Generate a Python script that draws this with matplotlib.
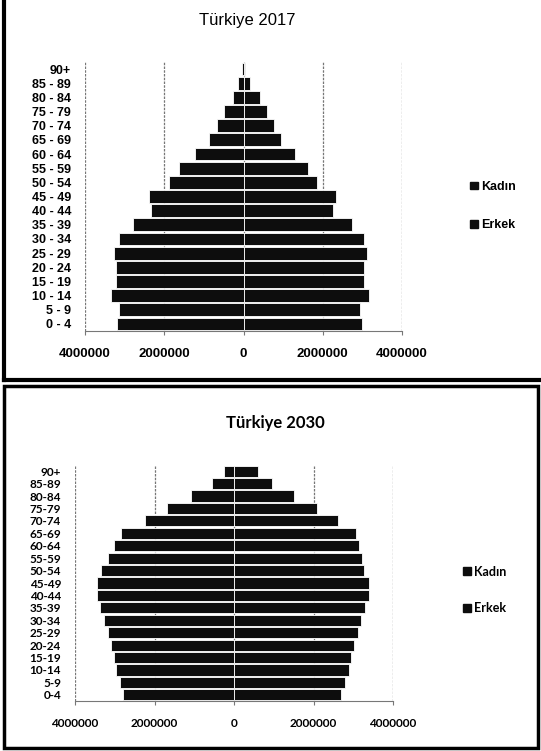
import numpy as np
import matplotlib
matplotlib.use("Agg")
import matplotlib.pyplot as plt
from matplotlib.patches import Rectangle
from matplotlib.lines import Line2D

# age groups, bottom to top
ages_2017 = ["0 - 4", "5 - 9", "10 - 14", "15 - 19", "20 - 24", "25 - 29", "30 - 34",
             "35 - 39", "40 - 44", "45 - 49", "50 - 54", "55 - 59", "60 - 64",
             "65 - 69", "70 - 74", "75 - 79", "80 - 84", "85 - 89", "90+"]
ages_2030 = ["0-4", "5-9", "10-14", "15-19", "20-24", "25-29", "30-34", "35-39",
             "40-44", "45-49", "50-54", "55-59", "60-64", "65-69", "70-74", "75-79",
             "80-84", "85-89", "90+"]

# population (millions)
erkek_2017 = [3.18, 3.14, 3.35, 3.22, 3.22, 3.28, 3.14, 2.79, 2.34, 2.38,
              1.88, 1.64, 1.22, 0.87, 0.66, 0.50, 0.26, 0.14, 0.05]
kadin_2017 = [2.99, 2.95, 3.17, 3.04, 3.04, 3.12, 3.04, 2.75, 2.25, 2.34,
              1.86, 1.64, 1.30, 0.94, 0.78, 0.59, 0.41, 0.17, 0.04]
erkek_2030 = [2.80, 2.88, 2.97, 3.03, 3.10, 3.17, 3.27, 3.37, 3.44, 3.44,
              3.34, 3.17, 3.01, 2.84, 2.25, 1.68, 1.08, 0.56, 0.24]
kadin_2030 = [2.68, 2.79, 2.89, 2.94, 3.02, 3.11, 3.20, 3.30, 3.40, 3.40,
              3.28, 3.22, 3.15, 3.07, 2.61, 2.09, 1.51, 0.95, 0.60]

x_ticks = [-4000000, -2000000, 0, 2000000, 4000000]
x_labels = ["4000000", "2000000", "0", "2000000", "4000000"]

W, H = 541, 751
fig = plt.figure(figsize=(W / 100, H / 100), dpi=100)


def box(x0, y0, x1, y1):
    return [x0 / W, 1 - y1 / H, (x1 - x0) / W, (y1 - y0) / H]


def pyramid(ax, ages, erkek, kadin, font, lsize, tsize):
    y = np.arange(len(ages))
    ax.barh(y, -np.array(erkek) * 1e6, height=0.9, color="#0d0d0d",
            edgecolor="white", linewidth=0.6, zorder=2)
    ax.barh(y, np.array(kadin) * 1e6, height=0.9, color="#0d0d0d",
            edgecolor="white", linewidth=0.6, zorder=2)
    ax.set_xlim(-4e6, 4e6)
    ax.set_ylim(-0.5, len(ages) - 0.5)
    ax.set_xticks(x_ticks)
    ax.set_xticklabels(x_labels, fontfamily=font, fontweight="bold", fontsize=tsize)
    ax.set_yticks(y)
    ax.set_yticklabels(ages, fontfamily=font, fontweight="bold", fontsize=lsize)
    ax.grid(axis="x", color="#777777", linestyle=(0, (2, 1)), linewidth=0.9, zorder=0)
    ax.set_axisbelow(True)
    for s in ["top", "right", "left"]:
        ax.spines[s].set_visible(False)
    ax.spines["bottom"].set_color("#777777")
    ax.spines["bottom"].set_linestyle((0, (2, 1)))
    ax.tick_params(axis="y", length=0, pad=10)
    ax.tick_params(axis="x", length=3, color="#777777", pad=9)


ax1 = fig.add_axes(box(85, 62, 402, 331))
pyramid(ax1, ages_2017, erkek_2017, kadin_2017, "Liberation Sans", 9, 9.5)
ax2 = fig.add_axes(box(75, 465, 393, 701))
pyramid(ax2, ages_2030, erkek_2030, kadin_2030, "Lato", 8.5, 8.5)

fig.text(247 / W, 1 - 20 / H, "Türkiye 2017", ha="center", va="center",
         fontsize=12, fontfamily="Liberation Sans")
fig.text(275 / W, 1 - 423 / H, "Türkiye 2030", ha="center", va="center",
         fontsize=12, fontweight="bold", fontfamily="Lato")

handles = [Rectangle((0, 0), 1, 1, color="#0d0d0d"), Rectangle((0, 0), 1, 1, color="#0d0d0d")]
fig.legend(handles, ["Kadın", "Erkek"], loc="center left", bbox_to_anchor=(470 / W, 1 - 206 / H),
           frameon=False, handlelength=0.6, handleheight=0.6, handletextpad=0.3,
           labelspacing=2.1, borderpad=0, borderaxespad=0,
           prop={"family": "Liberation Sans", "weight": "bold", "size": 9})
fig.legend(handles, ["Kadın", "Erkek"], loc="center left", bbox_to_anchor=(463 / W, 1 - 590 / H),
           frameon=False, handlelength=0.6, handleheight=0.6, handletextpad=0.3,
           labelspacing=2.0, borderpad=0, borderaxespad=0,
           prop={"family": "Lato", "weight": "bold", "size": 9})

# panel borders
fig.add_artist(Line2D([4 / W, 4 / W], [1.0, 1 - 380 / H], color="black", lw=3,
                      transform=fig.transFigure))
fig.add_artist(Line2D([4 / W, 1.0], [1 - 380 / H, 1 - 380 / H], color="black", lw=3,
                      transform=fig.transFigure))
fig.add_artist(Rectangle((4 / W, 1 - 748 / H), (538 - 4) / W, (748 - 386) / H,
                         fill=False, edgecolor="black", lw=2.5, transform=fig.transFigure))

fig.savefig("out.png", dpi=100)
